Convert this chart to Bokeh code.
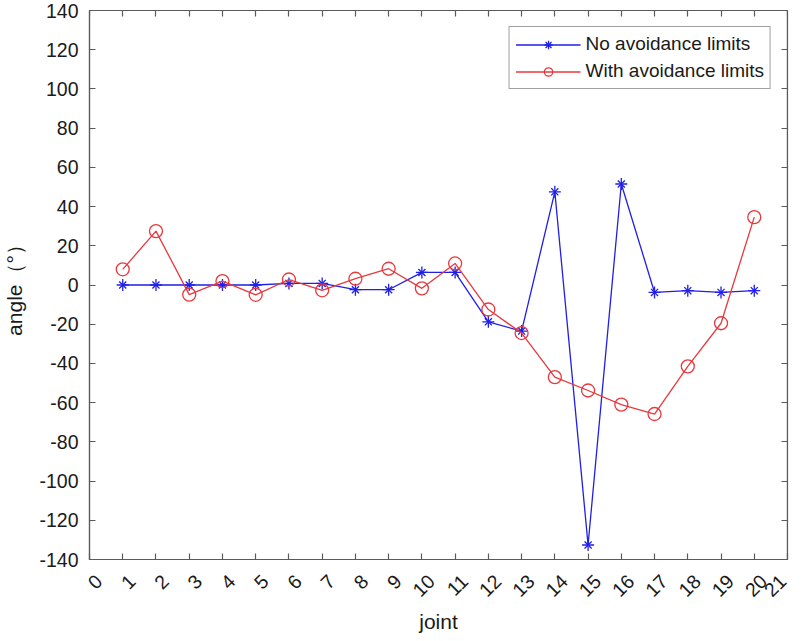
from bokeh.plotting import figure
from bokeh.models import (ColumnDataSource, Legend, LegendItem, LinearAxis,
                          FixedTicker, Range1d)
from bokeh.embed import file_html
from bokeh.resources import INLINE

# ---- data ----
joint = list(range(1, 21))
no_avoidance = [0, 0, 0, 0, 0, 0.8, 0.8, -2.4, -2.4, 6.4, 6.4, -18.8, -23.5,
                47.5, -132.6, 51.5, -3.8, -2.9, -3.8, -2.9]
with_avoidance = [8, 27.5, -4.9, 2, -5, 2.8, -2.7, 3.2, 8.3, -1.7, 11, -12.5,
                  -24.5, -47, -53.8, -61, -65.8, -41.5, -19.5, 34.6]
x_ticks = list(range(0, 22))
x_tick_labels = [str(v) for v in x_ticks]
y_ticks = list(range(-140, 141, 20))
y_tick_labels = [str(v) for v in y_ticks]
X_MAX, Y_MAX = 21, 140

FONT = "Liberation Sans"
BLUE = "#1f1fe8"
RED = "#e8383d"
AXC = "#5a5a5a"
TXT = "#1a1a1a"

src = ColumnDataSource(dict(x=joint, a=no_avoidance, b=with_avoidance))

p = figure(width=790, height=636, output_backend="svg", toolbar_location=None,
           x_range=Range1d(0, X_MAX), y_range=Range1d(-Y_MAX, Y_MAX),
           min_border_left=81, min_border_right=3, min_border_top=10,
           min_border_bottom=74)
p.xgrid.visible = False
p.ygrid.visible = False
p.outline_line_color = AXC
p.outline_line_width = 1.2
p.background_fill_color = "white"
p.border_fill_color = "white"

l1 = p.line("x", "a", source=src, line_color=BLUE, line_width=1.3)
s1a = p.scatter("x", "a", source=src, marker="cross", size=12,
                line_color=BLUE, line_width=1.3)
s1b = p.scatter("x", "a", source=src, marker="x", size=10,
                line_color=BLUE, line_width=1.3)
l2 = p.line("x", "b", source=src, line_color=RED, line_width=1.3)
s2 = p.scatter("x", "b", source=src, marker="circle", size=13,
               line_color=RED, fill_color=None, line_width=1.3)

xa = p.xaxis[0]
xa.ticker = FixedTicker(ticks=x_ticks)
xa.major_label_overrides = {v: "\n" + s for v, s in zip(x_ticks, x_tick_labels)}
ya = p.yaxis[0]
ya.ticker = FixedTicker(ticks=y_ticks)
ya.major_label_overrides = {v: s for v, s in zip(y_ticks, y_tick_labels)}
for ax in (xa, ya):
    ax.axis_line_color = AXC
    ax.axis_line_width = 1.2
    ax.major_tick_line_color = AXC
    ax.major_tick_line_width = 1.2
    ax.major_tick_in = 6
    ax.major_tick_out = 0
    ax.minor_tick_line_color = None
    ax.major_label_text_font = FONT
    ax.major_label_text_font_size = "19.5px"
    ax.major_label_text_color = TXT
    ax.axis_label_text_font = FONT
    ax.axis_label_text_font_size = "21px"
    ax.axis_label_text_font_style = "normal"
    ax.axis_label_text_color = TXT

xa.axis_label = "joint"
xa.major_label_orientation = 0.785
xa.major_label_standoff = 9
xa.axis_label_standoff = -11
ya.axis_label = "angle（°）"
ya.major_label_standoff = 11
ya.axis_label_standoff = 10

# box ticks on the top and right edges, drawn at the frame edges
top = LinearAxis(ticker=FixedTicker(ticks=x_ticks), fixed_location=Y_MAX)
right = LinearAxis(ticker=FixedTicker(ticks=y_ticks), fixed_location=X_MAX)
for ax in (top, right):
    ax.axis_line_color = AXC
    ax.axis_line_width = 1.2
    ax.major_tick_line_color = AXC
    ax.major_tick_line_width = 1.2
    ax.major_tick_in = 6
    ax.major_tick_out = 0
    ax.minor_tick_line_color = None
    ax.major_label_text_font_size = "1px"
    ax.major_label_text_color = None
    ax.major_label_standoff = 0
top.major_label_overrides = {v: "" for v in x_ticks}
right.major_label_overrides = {v: "" for v in y_ticks}
p.add_layout(top, "above")
p.add_layout(right, "right")

legend = Legend(items=[
    LegendItem(label="No avoidance limits", renderers=[l1, s1a, s1b]),
    LegendItem(label="With avoidance limits", renderers=[l2, s2]),
], location="top_right")
legend.label_text_font = FONT
legend.label_text_font_size = "19px"
legend.label_text_color = TXT
legend.glyph_width = 65
legend.glyph_height = 21
legend.label_standoff = 5
legend.spacing = 5
legend.padding = 6
legend.margin = 16
legend.border_line_color = "#444444"
legend.border_line_width = 1.2
legend.background_fill_alpha = 1
p.add_layout(legend)

open("out.html", "w").write(file_html(p, INLINE))
